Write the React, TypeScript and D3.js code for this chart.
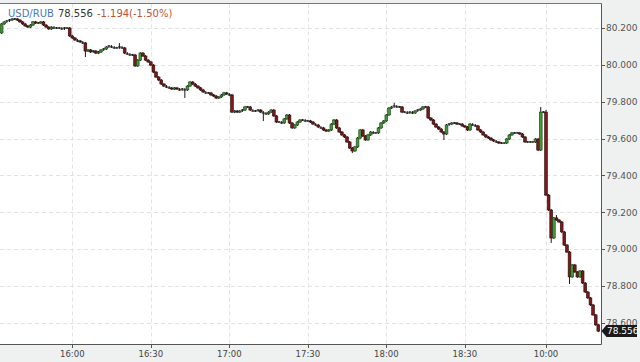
import React from "react";
import * as d3 from "d3";

// ---- data (1-minute candles, USD/RUB) ----
const firstOpen = 80.173;
const closes: number[] = [
  80.222, 80.233, 80.238, 80.243, 80.249, 80.249, 80.243, 80.233, 80.222, 80.211,
  80.205, 80.216, 80.233, 80.227, 80.227, 80.233, 80.216, 80.205, 80.195, 80.205,
  80.2, 80.2, 80.2, 80.195, 80.2, 80.2, 80.157, 80.146, 80.135, 80.13,
  80.124, 80.119, 80.075, 80.081, 80.07, 80.075, 80.064, 80.07, 80.081, 80.086,
  80.097, 80.102, 80.097, 80.092, 80.092, 80.097, 80.092, 80.064, 80.059, 80.054,
  80.054, 79.994, 80.026, 80.064, 80.048, 80.026, 80.016, 79.999, 79.961, 79.934,
  79.918, 79.896, 79.885, 79.88, 79.875, 79.869, 79.875, 79.869, 79.864, 79.869,
  79.864, 79.885, 79.907, 79.896, 79.885, 79.875, 79.864, 79.853, 79.848, 79.848,
  79.837, 79.831, 79.82, 79.826, 79.837, 79.848, 79.842, 79.837, 79.744, 79.75,
  79.744, 79.75, 79.755, 79.772, 79.772, 79.755, 79.75, 79.75, 79.755, 79.744,
  79.739, 79.734, 79.744, 79.755, 79.723, 79.69, 79.69, 79.685, 79.707, 79.728,
  79.685, 79.658, 79.674, 79.69, 79.701, 79.701, 79.696, 79.696, 79.69, 79.679,
  79.674, 79.663, 79.658, 79.647, 79.641, 79.647, 79.679, 79.701, 79.658, 79.636,
  79.62, 79.609, 79.582, 79.549, 79.533, 79.555, 79.603, 79.647, 79.614, 79.593,
  79.62, 79.636, 79.631, 79.631, 79.658, 79.685, 79.696, 79.728, 79.766, 79.772,
  79.777, 79.772, 79.772, 79.744, 79.744, 79.739, 79.744, 79.739, 79.75, 79.755,
  79.761, 79.772, 79.772, 79.712, 79.701, 79.679, 79.663, 79.652, 79.636, 79.625,
  79.674, 79.679, 79.685, 79.685, 79.679, 79.679, 79.669, 79.663, 79.647, 79.679,
  79.674, 79.669, 79.647, 79.636, 79.62, 79.609, 79.603, 79.593, 79.587, 79.582,
  79.576, 79.576, 79.576, 79.598, 79.62, 79.631, 79.631, 79.631, 79.625, 79.609,
  79.582, 79.582, 79.582, 79.582, 79.598, 79.538, 79.744, 79.744, 79.294, 79.213,
  79.061, 79.17, 79.159, 79.148, 79.094, 79.023, 78.985, 78.85, 78.915, 78.877,
  78.85, 78.882, 78.817, 78.768, 78.736, 78.698, 78.644, 78.59, 78.556,
];
// notable wicks: [barIndex, high, low]
const wicks: [number, number, number][] = [
  [32, 80.119, 80.048],
  [45, 80.113, 80.092],
  [70, 79.869, 79.826],
  [100, 79.744, 79.701],
  [134, 79.549, 79.527],
  [150, 79.788, 79.772],
  [169, 79.636, 79.598],
  [206, 79.766, 79.538],
  [208, 79.75, 79.294],
  [210, 79.213, 79.04],
  [212, 79.18, 79.159],
  [217, 78.985, 78.817],
];
const timeTickIndex = [27, 57, 87, 117, 147, 177, 208];
const timeTickLabels = ["16:00", "16:30", "17:00", "17:30", "18:00", "18:30", "10:00"];
const priceTicks = [78.6, 78.8, 79.0, 79.2, 79.4, 79.6, 79.8, 80.0, 80.2];
const symbol = "USD/RUB";
const lastPrice = 78.556;
const change = -1.194;
const changePct = -1.5;

const W = 640;
const H = 362;
const plotRight = 601.5;
const plotTop = 3.5;
const plotBottom = 344.5;

export default function App() {
  const x = d3.scaleLinear().domain([0, closes.length - 1]).range([1.64, 1.64 + 2.617 * (closes.length - 1)]);
  const y = d3.scaleLinear().domain([78.6, 80.2]).range([323, 28]);
  const wickMap = new Map(wicks.map((w) => [w[0], w]));
  const bars = closes.map((c, i) => {
    const o = i === 0 ? firstOpen : closes[i - 1];
    const w = wickMap.get(i);
    const hi = w ? Math.max(w[1], o, c) : Math.max(o, c);
    const lo = w ? Math.min(w[2], o, c) : Math.min(o, c);
    return { i, o, c, hi, lo };
  });
  const font = "'DejaVu Sans', Verdana, sans-serif";
  const fmt = (v: number) => v.toFixed(3);
  const ly = y(lastPrice);
  return (
    <div style={{ position: "fixed", left: 0, top: 0, width: W, height: H }}>
      <svg width={W} height={H} style={{ display: "block" }}>
        <rect x={0} y={0} width={W} height={H} fill="#eef1f0" />
        <rect x={0} y={plotTop} width={plotRight} height={plotBottom - plotTop} fill="#ffffff" />
        {/* grid */}
        {priceTicks.map((p) => (
          <line key={"gy" + p} x1={0} x2={plotRight} y1={Math.round(y(p)) + 0.5} y2={Math.round(y(p)) + 0.5}
            stroke="#e3e3e3" strokeDasharray="4,3" />
        ))}
        {timeTickIndex.map((t) => (
          <line key={"gx" + t} x1={Math.round(x(t)) + 0.5} x2={Math.round(x(t)) + 0.5} y1={plotTop} y2={plotBottom}
            stroke="#e3e3e3" strokeDasharray="4,3" />
        ))}
        {/* candles */}
        {bars.map((b) => {
          const cx = x(b.i);
          const up = b.c > b.o;
          const flat = Math.abs(y(b.c) - y(b.o)) < 1;
          const top = y(Math.max(b.o, b.c));
          const bot = y(Math.min(b.o, b.c));
          return (
            <g key={b.i}>
              <line x1={cx} x2={cx} y1={y(b.hi) - 1} y2={y(b.lo) + 1} stroke="#1a1a1a" strokeWidth={1} />
              {flat ? (
                <line x1={cx - 1.5} x2={cx + 1.5} y1={y(b.c)} y2={y(b.c)} stroke="#1a1a1a" strokeWidth={1.1} />
              ) : (
                <rect x={cx - 1.4} y={top} width={2.8} height={bot - top}
                  fill={up ? "#3f9a35" : "#7a1a1a"} stroke={up ? "#1d3d18" : "#2a0808"} strokeWidth={0.6} />
              )}
            </g>
          );
        })}
        {/* borders */}
        <line x1={0} x2={plotRight} y1={plotTop} y2={plotTop} stroke="#777" />
        <line x1={plotRight} x2={plotRight} y1={plotTop} y2={plotBottom} stroke="#555" />
        <line x1={0} x2={plotRight} y1={plotBottom} y2={plotBottom} stroke="#555" />
        {/* y axis */}
        {priceTicks.map((p) => (
          <g key={"yt" + p}>
            <line x1={plotRight} x2={plotRight + 3.5} y1={Math.round(y(p)) + 0.5} y2={Math.round(y(p)) + 0.5} stroke="#555" />
            <text x={606} y={y(p)} dy="0.35em" fontFamily={font} fontSize={9} fill="#555">{fmt(p)}</text>
          </g>
        ))}
        {/* x axis */}
        {timeTickIndex.map((t, k) => (
          <g key={"xt" + t}>
            <line x1={Math.round(x(t)) + 0.5} x2={Math.round(x(t)) + 0.5} y1={plotBottom} y2={plotBottom + 3.5} stroke="#555" />
            <text x={x(t)} y={357} textAnchor="middle" fontFamily={font} fontSize={8.5} fill="#444">{timeTickLabels[k]}</text>
          </g>
        ))}
        {/* last price tag */}
        <path d={`M${plotRight},${ly} L${plotRight + 5},${ly - 6} L${637},${ly - 6} L${637},${ly + 6} L${plotRight + 5},${ly + 6} Z`} fill="#1a1a1a" />
        <text x={607} y={ly} dy="0.35em" fontFamily={font} fontSize={9} fill="#fff">{fmt(lastPrice)}</text>
        {/* legend */}
        <text x={8} y={17} fontFamily={font} fontSize={10}>
          <tspan fill="#4a78c2">{symbol}</tspan>
          <tspan fill="#333" dx={4}>{fmt(lastPrice)}</tspan>
          <tspan fill="#c0522e" dx={4}>{`${change.toFixed(3)}(${changePct.toFixed(2)}%)`}</tspan>
        </text>
      </svg>
    </div>
  );
}
